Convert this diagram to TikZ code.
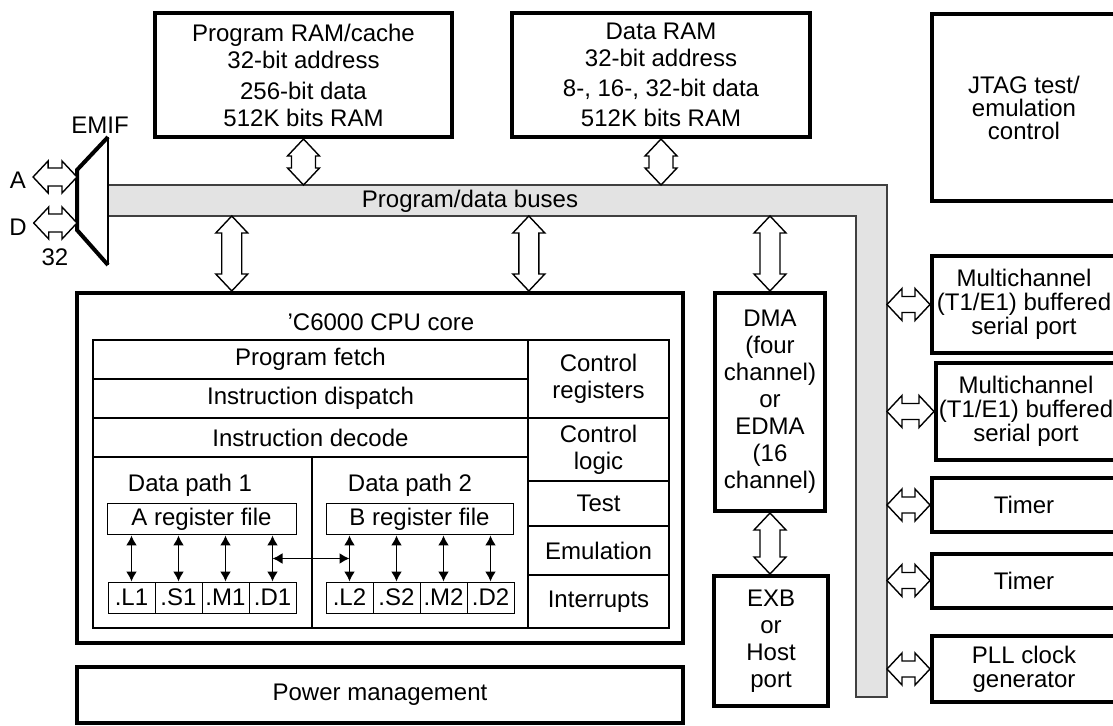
\documentclass[tikz,border=0pt]{standalone}
\usepackage{fontspec}
\setmainfont{Liberation Sans}
\usetikzlibrary{calc, arrows.meta}

% hollow double arrow, top point to bottom point
\newcommand{\vbus}[3][5pt]{%
  \draw[busarrow] let \p1=(#2), \p2=(#3) in
    (\x1,\y1) -- (\x1+8pt,\y1-8.5pt) -- (\x1+#1,\y1-8.5pt)
    -- (\x1+#1,\y2+8.5pt) -- (\x1+8pt,\y2+8.5pt) -- (\x1,\y2)
    -- (\x1-8pt,\y2+8.5pt) -- (\x1-#1,\y2+8.5pt)
    -- (\x1-#1,\y1-8.5pt) -- (\x1-8pt,\y1-8.5pt) -- cycle;
}
% hollow double arrow, left point to right point
\newcommand{\hbus}[3][4pt]{%
  \draw[busarrow] let \p1=(#2), \p2=(#3) in
    (\x1,\y1) -- (\x1+7.5pt,\y1+8pt) -- (\x1+7.5pt,\y1+#1)
    -- (\x2-7.5pt,\y1+#1) -- (\x2-7.5pt,\y1+8pt) -- (\x2,\y1)
    -- (\x2-7.5pt,\y1-8pt) -- (\x2-7.5pt,\y1-#1)
    -- (\x1+7.5pt,\y1-#1) -- (\x1+7.5pt,\y1-8pt) -- cycle;
}

\begin{document}
\begin{tikzpicture}[x=0.5pt, y=-0.5pt, font=\fontsize{12}{13.5}\selectfont,
  box/.style={draw, line width=2pt, align=center, inner sep=0pt},
  cell/.style={draw, line width=0.6pt, align=center, inner sep=0pt},
  unit/.style={draw, line width=0.5pt, minimum width=23.5pt, minimum height=15.5pt, inner sep=0pt},
  busarrow/.style={draw=black, fill=white, line width=0.7pt, line join=miter},
  link/.style={{Latex[length=5pt,width=5.5pt]}-{Latex[length=5pt,width=5.5pt]}, line width=0.8pt},
  busfill/.style={fill=gray!22, draw=black!75, line width=0.6pt}]
\useasboundingbox (0,0) rectangle (1113,726);

% Program/data buses
\draw[busfill] (108,185) -- (887,185) -- (887,697) -- (856,697) -- (856,216) -- (108,216) -- cycle;
\node (buslbl) at (470,201) {Program/data buses};
\coordinate (bustop) at (500,185);
\coordinate (busbot) at (500,216);
\coordinate (busright) at (887,400);

% Memories
\node[box, minimum width=148.5pt, minimum height=62pt] (pram) at (303.5,75)
  {Program RAM/cache\\32-bit address\\[2pt]256-bit data\\512K bits RAM};
\node[box, minimum width=149pt, minimum height=62pt] (dram) at (661,75)
  {Data RAM\\32-bit address\\[1.5pt]8-, 16-, 32-bit data\\[1.5pt]512K bits RAM};

% Peripherals
\node[box, minimum width=92pt, minimum height=93.5pt, font=\fontsize{12}{11.5}\selectfont] (jtag) at (1024,108)
  {JTAG test/\\emulation\\control};
\node[box, minimum width=92pt, minimum height=48.5pt, font=\fontsize{12}{12}\selectfont] (mcbsp1) at (1024,304.5)
  {Multichannel\\(T1/E1) buffered\\serial port};
\node[box, minimum width=90pt, minimum height=48.5pt, font=\fontsize{12}{12}\selectfont] (mcbsp2) at (1026,411.5)
  {Multichannel\\(T1/E1) buffered\\serial port};
\node[box, minimum width=92pt, minimum height=27pt] (timer1) at (1024,505) {Timer};
\node[box, minimum width=92pt, minimum height=27pt] (timer2) at (1024,580.5) {Timer};
\node[box, minimum width=92pt, minimum height=33pt, font=\fontsize{12}{12}\selectfont] (pll) at (1024,669)
  {PLL clock\\generator};

% DMA and host port
\node[box, minimum width=55pt, minimum height=109pt] (dma) at (770,402)
  {DMA\\(four\\channel)\\or\\EDMA\\(16\\channel)};
\node[box, minimum width=57pt, minimum height=65pt] (exb) at (771,641) {EXB\\or\\Host\\port};

% CPU core
\node[box, minimum width=303pt, minimum height=175pt] (cpu) at (380,468) {};
\node (cputitle) at (381,322) {'C6000 CPU core};
\node[cell, minimum width=217.5pt, minimum height=19.5pt] (fetch) at (310.5,359.5) {Program fetch};
\node[cell, minimum width=217.5pt, minimum height=19.5pt] (dispatch) at (310.5,398.5) {Instruction dispatch};
\node[cell, minimum width=217.5pt, minimum height=19.5pt] (decode) at (310.5,437.5) {Instruction decode};
\node[cell, minimum width=109.5pt, minimum height=85.5pt] (dpath1) at (202.5,542.5) {};
\node[cell, minimum width=108pt, minimum height=85.5pt] (dpath2) at (420,542.5) {};
\node[cell, minimum width=70.5pt, minimum height=39pt] (ctrlreg) at (598.5,379) {Control\\registers};
\node[cell, minimum width=70.5pt, minimum height=31.5pt] (ctrllog) at (598.5,449.5) {Control\\logic};
\node[cell, minimum width=70.5pt, minimum height=22.5pt] (test) at (598.5,503.5) {Test};
\node[cell, minimum width=70.5pt, minimum height=24.5pt] (emul) at (598.5,550.5) {Emulation};
\node[cell, minimum width=70.5pt, minimum height=26.5pt] (intr) at (598.5,601.5) {Interrupts};

% Data paths
\node (dp1lbl) at (190,485) {Data path 1};
\node (dp2lbl) at (410,485) {Data path 2};
\node[cell, line width=0.5pt, minimum width=94.5pt, minimum height=15.5pt] (rega) at (201.5,519.5) {A register file};
\node[cell, line width=0.5pt, minimum width=93.5pt, minimum height=15.5pt] (regb) at (419.5,519.5) {B register file};
\foreach \u [count=\i] in {L,S,M,D} {
  \node[unit] (a\u) at ({84.5+47*\i},597.5) {.\u1};
  \node[unit] (b\u) at ({302.5+47*\i},597.5) {.\u2};
  \draw[link] (a\u.north) -- (a\u.north |- rega.south);
  \draw[link] (b\u.north) -- (b\u.north |- regb.south);
}
\draw[link] ($(aD.north)!.5!(aD.north |- rega.south)$) -- ($(bL.north)!.5!(bL.north |- regb.south)$);

% Power management
\node[box, minimum width=303pt, minimum height=28pt] (power) at (380,695) {Power management};

% EMIF
\draw[line width=0.7pt] (108,137) -- (108,265);
\draw[line width=2pt] (108,137) -- (77,170) -- (77,230) -- (108,265);
\node (emif) at (100,125) {EMIF};
\coordinate (emifA) at (77,177);
\coordinate (emifD) at (77,223);
\node (lblA) at (18,180) {A};
\node (lblD) at (18,227) {D};
\node (lbl32) at (55,257) {32};
\hbus[4.5pt]{lblA.east |- emifA}{emifA};
\hbus[4.5pt]{lblD.east |- emifD}{emifD};

% Bus connections
\vbus[6pt]{pram.south}{pram.south |- bustop};
\vbus[6pt]{dram.south}{dram.south |- bustop};
\coordinate (cpuin1) at ($(cpu.north west)!0.257!(cpu.north east)$);
\coordinate (cpuin2) at ($(cpu.north west)!0.744!(cpu.north east)$);
\vbus{cpuin1 |- busbot}{cpuin1};
\vbus{cpuin2 |- busbot}{cpuin2};
\vbus{dma.north |- busbot}{dma.north};
\vbus{dma.south}{dma.south |- exb.north};
\foreach \per in {mcbsp1,mcbsp2,timer1,timer2,pll}
  \hbus{busright |- \per.west}{\per.west};
\end{tikzpicture}
\end{document}
